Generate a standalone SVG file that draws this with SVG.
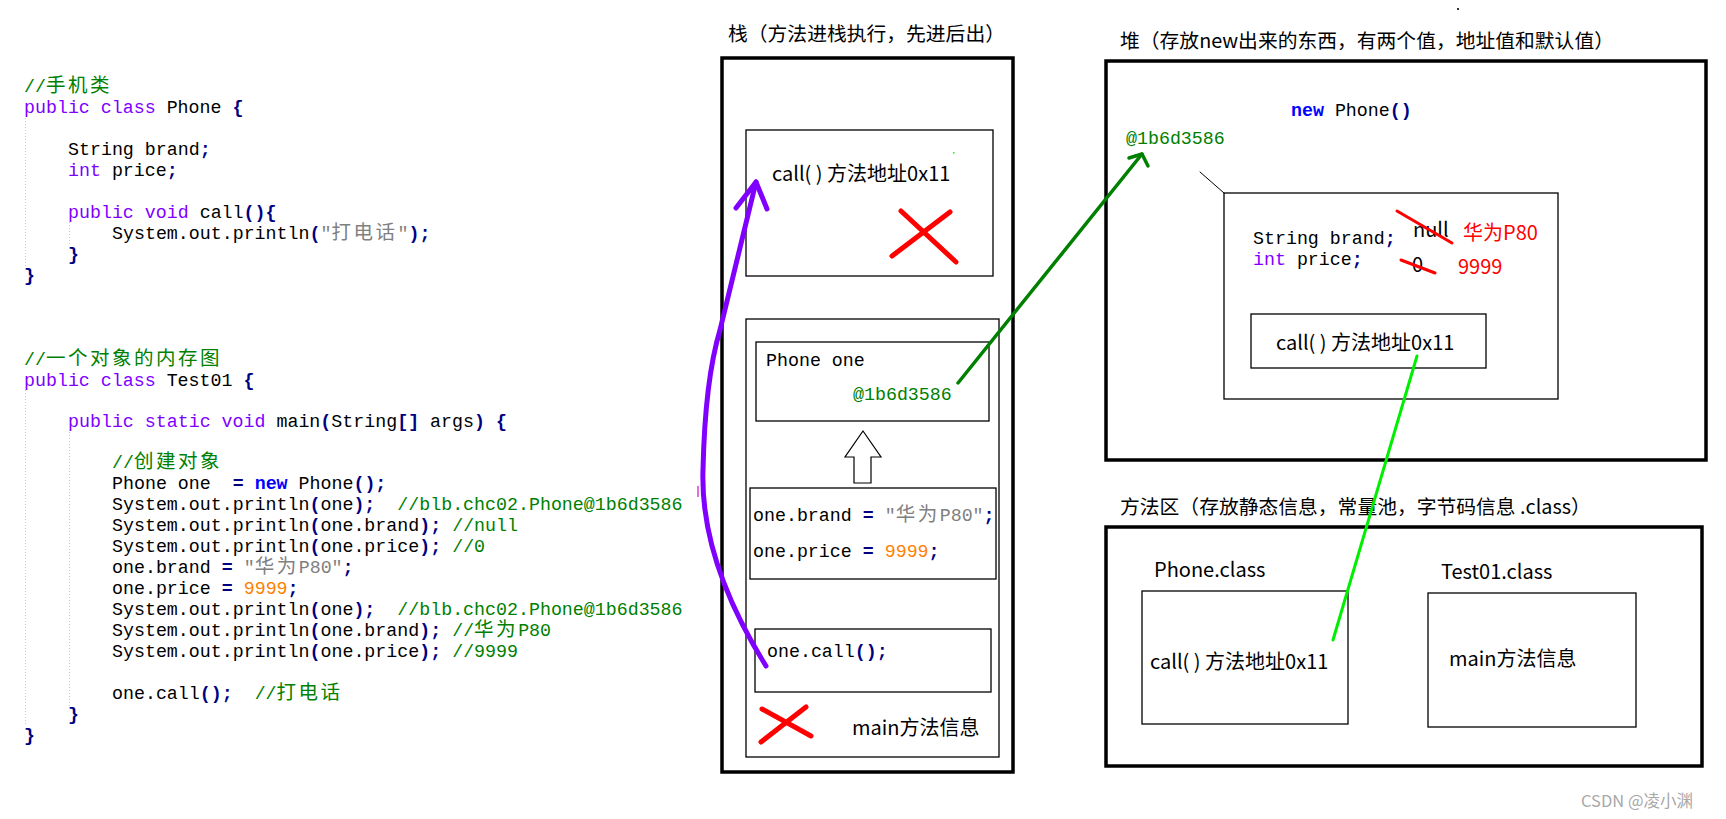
<svg xmlns="http://www.w3.org/2000/svg" width="1726" height="819" viewBox="0 0 1726 819">
<style>
.m{font-family:"Liberation Mono","Noto Sans CJK SC",monospace;font-size:18.3px;fill:#000}
.kw{fill:#8000ff}
.op{fill:#000080;font-weight:bold}
.cm{fill:#008000}
.st{fill:#808080}
.nu{fill:#ff8000}
.nw{fill:#0000ff;font-weight:bold}
.cj{font-family:"Noto Sans CJK SC",sans-serif;font-size:19.5px;letter-spacing:2.5px;font-weight:normal}
.ui{font-family:"Noto Sans CJK SC","Noto Sans",sans-serif;font-size:20px;fill:#000}
.title{font-family:"Noto Sans CJK SC","Noto Sans",sans-serif;font-size:19.8px;fill:#000}
.thin{fill:none;stroke:#000;stroke-width:1.3}
.thick{fill:none;stroke:#000;stroke-width:3.5}
.redx{fill:none;stroke:#ff0000;stroke-width:5;stroke-linecap:round}
.strike{fill:none;stroke:#ff0000;stroke-width:3;stroke-linecap:round}
.guide{fill:none;stroke:#c8c8c8;stroke-width:1;stroke-dasharray:1 2}
</style>
<rect width="1726" height="819" fill="#fff"/>

<g id="code-phone">
<line class="guide" x1="25.5" y1="118" x2="25.5" y2="266"/>
<line class="guide" x1="69.5" y1="222" x2="69.5" y2="244"/>
<text class="m" x="24" y="92" xml:space="preserve"><tspan class="cm">//<tspan class="cj">手机类</tspan></tspan></text>
<text class="m" x="24" y="113" xml:space="preserve"><tspan class="kw">public class</tspan> Phone <tspan class="op">{</tspan></text>
<text class="m" x="68" y="155" xml:space="preserve">String brand<tspan class="op">;</tspan></text>
<text class="m" x="68" y="176" xml:space="preserve"><tspan class="kw">int</tspan> price<tspan class="op">;</tspan></text>
<text class="m" x="68" y="218" xml:space="preserve"><tspan class="kw">public void</tspan> call<tspan class="op">(){</tspan></text>
<text class="m" x="112" y="239" xml:space="preserve">System.out.println<tspan class="op">(</tspan><tspan class="st">"<tspan class="cj">打电话</tspan>"</tspan><tspan class="op">);</tspan></text>
<text class="m" x="68" y="260" xml:space="preserve"><tspan class="op">}</tspan></text>
<text class="m" x="24" y="281" xml:space="preserve"><tspan class="op">}</tspan></text>
</g>

<g id="code-test01">
<line class="guide" x1="25.5" y1="390" x2="25.5" y2="726"/>
<line class="guide" x1="69.5" y1="432" x2="69.5" y2="706"/>
<rect x="697" y="486" width="2" height="11" fill="#e070e0"/>
<text class="m" x="24" y="365" xml:space="preserve"><tspan class="cm">//<tspan class="cj">一个对象的内存图</tspan></tspan></text>
<text class="m" x="24" y="386" xml:space="preserve"><tspan class="kw">public class</tspan> Test01 <tspan class="op">{</tspan></text>
<text class="m" x="68" y="427" xml:space="preserve"><tspan class="kw">public static void</tspan> main<tspan class="op">(</tspan>String<tspan class="op">[]</tspan> args<tspan class="op">)</tspan> <tspan class="op">{</tspan></text>
<text class="m" x="112" y="468" xml:space="preserve"><tspan class="cm">//<tspan class="cj">创建对象</tspan></tspan></text>
<text class="m" x="112" y="489" xml:space="preserve">Phone one  <tspan class="op">=</tspan> <tspan class="nw">new</tspan> Phone<tspan class="op">();</tspan></text>
<text class="m" x="112" y="510" xml:space="preserve">System.out.println<tspan class="op">(</tspan>one<tspan class="op">);</tspan>  <tspan class="cm">//blb.chc02.Phone@1b6d3586</tspan></text>
<text class="m" x="112" y="531" xml:space="preserve">System.out.println<tspan class="op">(</tspan>one.brand<tspan class="op">);</tspan> <tspan class="cm">//null</tspan></text>
<text class="m" x="112" y="552" xml:space="preserve">System.out.println<tspan class="op">(</tspan>one.price<tspan class="op">);</tspan> <tspan class="cm">//0</tspan></text>
<text class="m" x="112" y="573" xml:space="preserve">one.brand <tspan class="op">=</tspan> <tspan class="st">"<tspan class="cj">华为</tspan>P80"</tspan><tspan class="op">;</tspan></text>
<text class="m" x="112" y="594" xml:space="preserve">one.price <tspan class="op">=</tspan> <tspan class="nu">9999</tspan><tspan class="op">;</tspan></text>
<text class="m" x="112" y="615" xml:space="preserve">System.out.println<tspan class="op">(</tspan>one<tspan class="op">);</tspan>  <tspan class="cm">//blb.chc02.Phone@1b6d3586</tspan></text>
<text class="m" x="112" y="636" xml:space="preserve">System.out.println<tspan class="op">(</tspan>one.brand<tspan class="op">);</tspan> <tspan class="cm">//<tspan class="cj">华为</tspan>P80</tspan></text>
<text class="m" x="112" y="657" xml:space="preserve">System.out.println<tspan class="op">(</tspan>one.price<tspan class="op">);</tspan> <tspan class="cm">//9999</tspan></text>
<text class="m" x="112" y="699" xml:space="preserve">one.call<tspan class="op">();</tspan>  <tspan class="cm">//<tspan class="cj">打电话</tspan></tspan></text>
<text class="m" x="68" y="720" xml:space="preserve"><tspan class="op">}</tspan></text>
<text class="m" x="24" y="741" xml:space="preserve"><tspan class="op">}</tspan></text>
</g>

<g id="stack">
<text class="title" x="728" y="41">栈（方法进栈执行，先进后出）</text>
<rect class="thick" x="722" y="58" width="291" height="714"/>
</g>

<g id="stack-call-frame">
<rect class="thin" x="746" y="130" width="247" height="146"/>
<text class="ui" x="772" y="181">call( ) 方法地址0x11</text>
<rect x="953" y="152" width="1.5" height="1.5" fill="#00ff00"/>
<line class="redx" x1="892" y1="256" x2="950" y2="212"/>
<line class="redx" x1="901" y1="211" x2="956" y2="262"/>
</g>

<g id="stack-main-frame">
<rect class="thin" x="746" y="319" width="253" height="438"/>
<text class="ui" x="852" y="735">main方法信息</text>
<line class="redx" x1="761" y1="742" x2="806" y2="707"/>
<line class="redx" x1="762" y1="709" x2="811" y2="736"/>
</g>

<g id="stack-phone-one">
<rect class="thin" x="756" y="342" width="233" height="79"/>
<text class="m" x="766" y="366">Phone one</text>
<text class="m cm" x="853" y="400">@1b6d3586</text>
</g>

<g id="stack-up-arrow">
<polygon points="863,431 881,457 871,457 871,483 854,483 854,457 845,457" fill="#fff" stroke="#000" stroke-width="1.2"/>
</g>

<g id="stack-assign">
<rect class="thin" x="750" y="488" width="246" height="91"/>
<text class="m" x="753" y="521" xml:space="preserve">one.brand <tspan class="op">=</tspan> <tspan class="st">"<tspan class="cj">华为</tspan>P80"</tspan><tspan class="op">;</tspan></text>
<text class="m" x="753" y="557" xml:space="preserve">one.price <tspan class="op">=</tspan> <tspan class="nu">9999</tspan><tspan class="op">;</tspan></text>
</g>

<g id="stack-call-stmt">
<rect class="thin" x="755" y="629" width="236" height="63"/>
<text class="m" x="767" y="657" xml:space="preserve">one.call<tspan class="op">();</tspan></text>
</g>

<g id="heap">
<rect x="1457" y="8" width="2" height="2" fill="#333"/>
<text class="title" x="1120" y="48">堆（存放new出来的东西，有两个值，地址值和默认值）</text>
<rect class="thick" x="1106" y="61" width="600" height="399"/>
<text class="m" x="1291" y="116" xml:space="preserve"><tspan class="nw">new</tspan> Phone<tspan class="op">()</tspan></text>
<text class="m cm" x="1126" y="144">@1b6d3586</text>
</g>

<g id="heap-object">
<rect class="thin" x="1224" y="193" width="334" height="206"/>
<text class="m" x="1253" y="244" xml:space="preserve">String brand<tspan class="op">;</tspan></text>
<text class="m" x="1253" y="265" xml:space="preserve"><tspan class="kw">int</tspan> price<tspan class="op">;</tspan></text>
<text class="ui" x="1413" y="237">null</text>
<line class="strike" x1="1397" y1="211" x2="1452" y2="243"/>
<text class="ui" x="1463" y="240" style="fill:#ff0000">华为P80</text>
<text class="ui" x="1412" y="272">0</text>
<line class="strike" x1="1401" y1="260" x2="1435" y2="273"/>
<text class="ui" x="1458" y="274" style="fill:#ff0000">9999</text>
</g>

<g id="heap-call">
<rect class="thin" x="1251" y="314" width="235" height="54"/>
<text class="ui" x="1276" y="350">call( ) 方法地址0x11</text>
</g>

<g id="method-area">
<text class="title" x="1120" y="514">方法区（存放静态信息，常量池，字节码信息 .class）</text>
<rect class="thick" x="1106" y="527" width="596" height="239"/>
</g>

<g id="phone-class">
<text class="ui" x="1154" y="577">Phone.class</text>
<rect class="thin" x="1142" y="591" width="206" height="133"/>
<text class="ui" x="1150" y="669">call( ) 方法地址0x11</text>
</g>

<g id="test01-class">
<text class="ui" x="1441" y="579">Test01.class</text>
<rect class="thin" x="1428" y="593" width="208" height="134"/>
<text class="ui" x="1449" y="666">main方法信息</text>
</g>

<g id="connectors" fill="none" stroke-linecap="round" stroke-linejoin="round">
<path d="M766,666 Q700,560 703,470 Q705,380 720,330 L756,182" stroke="#8000ff" stroke-width="5"/>
<polyline points="736,208 756,182 767,209" stroke="#8000ff" stroke-width="5"/>
<line x1="958" y1="383" x2="1142" y2="154" stroke="#008000" stroke-width="3.5"/>
<polyline points="1129,158 1142,154 1148,166" stroke="#008000" stroke-width="3.5"/>
<line x1="1417" y1="356" x2="1333" y2="640" stroke="#00ee00" stroke-width="3"/>
<line x1="1200" y1="172" x2="1224" y2="193" stroke="#000" stroke-width="1"/>
</g>

<text x="1581" y="807" style="font-family:'Noto Sans CJK SC','Noto Sans',sans-serif;font-size:16.5px;fill:#a8a8a8">CSDN @凌小渊</text>
</svg>
